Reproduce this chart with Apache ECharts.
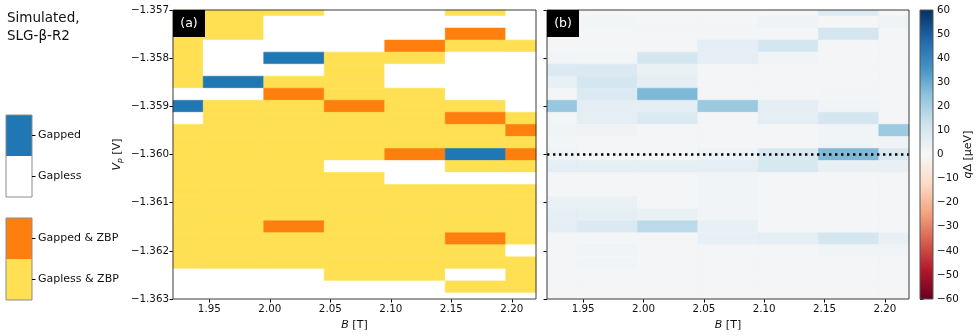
<!DOCTYPE html>
<html>
<head>
<meta charset="utf-8">
<script src="https://cdn.jsdelivr.net/npm/echarts@6/dist/echarts.min.js"></script>
<style>
html,body{margin:0;padding:0;background:#ffffff;}
#c{width:980px;height:336px;}
</style>
</head>
<body>
<div id="c"></div>
<script>
// ---------------- DATA ----------------
const B_VALUES = [1.92, 1.97, 2.02, 2.07, 2.12, 2.17, 2.22];
const VP_VALUES = [-1.357, -1.35725, -1.3575, -1.35775, -1.358, -1.35825, -1.3585, -1.35875,
  -1.359, -1.35925, -1.3595, -1.35975, -1.36, -1.36025, -1.3605, -1.36075,
  -1.361, -1.36125, -1.3615, -1.36175, -1.362, -1.36225, -1.3625, -1.36275, -1.363];
const X_TICKS = [1.95, 2.00, 2.05, 2.10, 2.15, 2.20];
const Y_TICKS = [-1.363, -1.362, -1.361, -1.360, -1.359, -1.358, -1.357];
const CBAR_TICKS = [-60, -50, -40, -30, -20, -10, 0, 10, 20, 30, 40, 50, 60];
const CBAR_MIN = -60;
const CBAR_MAX = 60;
const DOTTED_VP = -1.360;

// state codes: 0 Gapped, 1 Gapless, 2 Gapped & ZBP, 3 Gapless & ZBP
const STATE_NAMES = ['Gapped', 'Gapless', 'Gapped & ZBP', 'Gapless & ZBP'];
// rows follow VP_VALUES (top to bottom), columns follow B_VALUES
const PANEL_A_STATES = [
  [3,3,3,1,1,3,1],
  [3,3,1,1,1,1,1],
  [3,3,1,1,1,2,1],
  [3,1,1,1,2,3,3],
  [3,1,0,3,3,1,1],
  [3,1,1,3,1,1,1],
  [3,0,3,3,1,1,1],
  [1,1,2,3,3,1,1],
  [0,3,3,2,3,3,1],
  [1,3,3,3,3,2,3],
  [3,3,3,3,3,3,2],
  [3,3,3,3,3,3,3],
  [3,3,3,3,2,0,2],
  [3,3,3,1,1,3,3],
  [3,3,3,3,1,1,1],
  [3,3,3,3,3,3,3],
  [3,3,3,3,3,3,3],
  [3,3,3,3,3,3,3],
  [3,3,2,3,3,3,3],
  [3,3,3,3,3,2,3],
  [3,3,3,3,3,3,1],
  [3,3,3,3,3,3,3],
  [1,1,1,3,3,1,3],
  [1,1,1,1,1,3,3],
  [1,1,1,1,1,1,1]
];
// q*Delta [ueV]
const PANEL_B_QDELTA = [
  [1.3, 1.3, 1.3, 1.3, 1.3, 8.5, 1.3],
  [1.3, 1.5, 1.3, 1.3, 2.5, 1.3, 2.8],
  [1.3, 1.3, 1.3, 1.3, 1.3, 11, 1.3],
  [1.3, 1.3, 1.3, 5.7, 11, 1.3, 1.3],
  [2.2, 1.6, 11, 5.7, 2.2, 1.3, 1.3],
  [8.8, 8.8, 4, 1.3, 1.3, 1.3, 1.3],
  [5, 11, 6, 1.3, 1.3, 1.3, 1.3],
  [1.3, 8.8, 27, 1.3, 1.3, 1.6, 1.3],
  [23, 6, 6, 22.5, 6, 2.2, 1.3],
  [1.6, 6, 8.8, 1.3, 6, 11, 1.3],
  [2.2, 2.5, 1.3, 1.3, 1.3, 1.9, 22],
  [1.6, 1.3, 1.3, 1.3, 1.3, 2.2, 2.5],
  [2.5, 1.3, 1.3, 3.5, 10, 27, 10],
  [6, 6, 6, 6, 10, 4.4, 4.4],
  [1.3, 1.3, 1.3, 1.9, 1.3, 1.3, 1.3],
  [1.3, 1.3, 1.3, 2.2, 1.3, 1.3, 1.3],
  [4, 4, 1.3, 2.2, 1.3, 1.3, 1.3],
  [6, 6, 4, 2.2, 1.3, 1.3, 1.3],
  [6, 8.8, 16, 5, 1.3, 1.3, 1.3],
  [1.3, 1.3, 1.3, 5, 6, 11, 4.4],
  [1.3, 1.9, 1.3, 1.3, 1.3, 1.9, 1.9],
  [1.3, 1.9, 1.3, 1.3, 1.3, 1.3, 1.3],
  [1.3, 1.3, 1.3, 1.3, 1.3, 1.3, 1.3],
  [1.3, 1.3, 1.3, 1.3, 1.3, 1.3, 1.3],
  [1.3, 1.3, 1.3, 1.3, 1.3, 1.3, 1.3]
];

// ---------------- STYLE ----------------
const STATE_COLORS = ['#1f77b4', '#ffffff', '#ff7f0e', '#fee052'];
const RDBU = ['#67001f','#b2182b','#d6604d','#f4a582','#fddbc7','#f7f7f7','#d1e5f0','#92c5de','#4393c3','#2166ac','#053061'];
const FONT = 'DejaVu Sans';
const TXT = '#111111';

// ---------------- BUILD ----------------
function buildData(grid) {
  const out = [];
  grid.forEach((row, r) => row.forEach((val, c) => out.push([B_VALUES[c], VP_VALUES[r], val])));
  return out;
}
const dataA = buildData(PANEL_A_STATES);
const dataB = buildData(PANEL_B_QDELTA);

const halfB = (B_VALUES[1] - B_VALUES[0]) / 2;
const halfV = Math.abs(VP_VALUES[0] - VP_VALUES[1]) / 2;

function cellShape(params, api) {
  const b = api.value(0), v = api.value(1);
  const p0 = api.coord([b - halfB, v + halfV]);
  const p1 = api.coord([b + halfB, v - halfV]);
  const cs = params.coordSys;
  return echarts.graphic.clipRectByRect(
    {x: p0[0], y: p0[1], width: p1[0] - p0[0], height: p1[1] - p0[1]},
    {x: cs.x, y: cs.y, width: cs.width, height: cs.height});
}

const fmtB = v => v.toFixed(2);
const fmtV = v => '\u2212' + Math.abs(v).toFixed(3);
const fmtC = v => (v < 0 ? '\u2212' + Math.abs(v) : String(v));

const tickStyle = {color: '#000', width: 1};
const labelBase = {fontFamily: FONT, fontSize: 10.3, color: TXT};

function xAxisFor(i) {
  return {
    type: 'value', gridIndex: i, min: B_VALUES[0], max: B_VALUES[B_VALUES.length - 1],
    axisLine: {show: false},
    axisTick: {show: true, inside: false, length: 3.5, customValues: X_TICKS, lineStyle: tickStyle},
    axisLabel: Object.assign({show: true, customValues: X_TICKS, formatter: fmtB, margin: 5.5}, labelBase),
    splitLine: {show: false},
    name: '{i|B} [T]', nameLocation: 'middle', nameGap: 19,
    nameTextStyle: {fontFamily: FONT, fontSize: 11, color: TXT,
      rich: {i: {fontFamily: FONT, fontSize: 11, fontStyle: 'italic', color: TXT}}}
  };
}
function yAxisFor(i, withLabels) {
  const ax = {
    type: 'value', gridIndex: i, min: VP_VALUES[VP_VALUES.length - 1], max: VP_VALUES[0],
    axisLine: {show: false},
    axisTick: {show: true, inside: false, length: 3.5, customValues: Y_TICKS, lineStyle: tickStyle},
    axisLabel: Object.assign({show: withLabels, customValues: Y_TICKS, formatter: fmtV, margin: 4}, labelBase),
    splitLine: {show: false}
  };
  if (withLabels) {
    ax.name = '{i|V}{s|p} [V]';
    ax.nameLocation = 'middle';
    ax.nameGap = 49;
    ax.nameTextStyle = {fontFamily: FONT, fontSize: 11, color: TXT,
      rich: {
        i: {fontFamily: FONT, fontSize: 11, fontStyle: 'italic', color: TXT, lineHeight: 14},
        s: {fontFamily: FONT, fontSize: 7.5, fontStyle: 'italic', color: TXT, verticalAlign: 'bottom', lineHeight: 9}
      }};
  }
  return ax;
}

const gridBase = {show: true, borderColor: '#3a3a3a', borderWidth: 1, backgroundColor: 'transparent', z: 10, containLabel: false};

const legendGraphics = [];
function legendBox(top, idxTop, idxBottom) {
  const h = 41, w = 26, x = 6;
  legendGraphics.push({type: 'rect', shape: {x: x, y: top, width: w, height: h}, style: {fill: STATE_COLORS[idxTop]}, z: 1});
  legendGraphics.push({type: 'rect', shape: {x: x, y: top + h, width: w, height: h}, style: {fill: STATE_COLORS[idxBottom]}, z: 1});
  legendGraphics.push({type: 'rect', shape: {x: x, y: top, width: w, height: 2 * h}, style: {fill: 'none', stroke: '#8c8c8c', lineWidth: 1}, z: 2});
  [[idxTop, top + h / 2], [idxBottom, top + 1.5 * h]].forEach(([idx, y]) => {
    legendGraphics.push({type: 'line', shape: {x1: x + w, y1: y, x2: x + w + 3.5, y2: y}, style: {stroke: '#000', lineWidth: 1}, z: 2});
    legendGraphics.push({type: 'text', x: 38, y: y, style: {text: STATE_NAMES[idx], fontFamily: FONT, fontSize: 11, fill: TXT, verticalAlign: 'middle', align: 'left'}, z: 2});
  });
}
legendBox(115, 0, 1);
legendBox(218, 2, 3);

function panelTag(x, label) {
  return [
    {type: 'rect', shape: {x: x, y: 10, width: 32, height: 27}, style: {fill: '#000'}, z: 100},
    {type: 'text', x: x + 16, y: 23.5, style: {text: label, fontFamily: FONT, fontSize: 12.5, fill: '#fff', align: 'center', verticalAlign: 'middle'}, z: 101}
  ];
}

const option = {
  animation: false,
  backgroundColor: '#ffffff',
  grid: [
    Object.assign({left: 173, top: 10, width: 363, height: 289}, gridBase),
    Object.assign({left: 547, top: 10, width: 362, height: 289}, gridBase),
    Object.assign({left: 920, top: 10, width: 13, height: 289}, gridBase, {borderColor: '#555'})
  ],
  xAxis: [
    xAxisFor(0),
    xAxisFor(1),
    {type: 'value', gridIndex: 2, min: 0, max: 1, show: false}
  ],
  yAxis: [
    yAxisFor(0, true),
    yAxisFor(1, false),
    {
      type: 'value', gridIndex: 2, min: CBAR_MIN, max: CBAR_MAX, position: 'right',
      axisLine: {show: false},
      axisTick: {show: true, inside: false, length: 3.5, customValues: CBAR_TICKS, lineStyle: tickStyle},
      axisLabel: Object.assign({show: true, customValues: CBAR_TICKS, formatter: fmtC, margin: 4}, labelBase),
      splitLine: {show: false},
      name: '{i|q}\u0394 [\u03bceV]', nameLocation: 'middle', nameGap: 29,
      nameTextStyle: {fontFamily: FONT, fontSize: 11, color: TXT,
        rich: {i: {fontFamily: FONT, fontSize: 11, fontStyle: 'italic', color: TXT}}}
    }
  ],
  visualMap: [{
    type: 'continuous', show: false, seriesIndex: 1, dimension: 2,
    min: CBAR_MIN, max: CBAR_MAX, inRange: {color: RDBU}
  }],
  series: [
    {
      type: 'custom', xAxisIndex: 0, yAxisIndex: 0, data: dataA,
      encode: {x: 0, y: 1},
      renderItem: function (params, api) {
        const shape = cellShape(params, api);
        if (!shape) return null;
        const col = STATE_COLORS[api.value(2)];
        return {type: 'rect', shape: shape, style: {fill: col, stroke: col, lineWidth: 0.6}};
      }
    },
    {
      type: 'custom', xAxisIndex: 1, yAxisIndex: 1, data: dataB,
      encode: {x: 0, y: 1},
      renderItem: function (params, api) {
        const shape = cellShape(params, api);
        if (!shape) return null;
        const col = api.visual('color');
        return {type: 'rect', shape: shape, style: {fill: col, stroke: col, lineWidth: 0.6}};
      }
    },
    {
      type: 'line', xAxisIndex: 1, yAxisIndex: 1, z: 5,
      data: B_VALUES.map(b => [b, DOTTED_VP]),
      symbol: 'none', silent: true,
      lineStyle: {color: '#000', width: 2.4, type: [2.4, 3.6], cap: 'butt'}
    },
    {
      type: 'custom', xAxisIndex: 2, yAxisIndex: 2, data: [[0, CBAR_MIN, CBAR_MAX]],
      renderItem: function (params, api) {
        const p0 = api.coord([0, api.value(2)]);
        const p1 = api.coord([1, api.value(1)]);
        const stops = RDBU.slice().reverse().map((c, i) => ({offset: i / (RDBU.length - 1), color: c}));
        return {type: 'rect', shape: {x: p0[0], y: p0[1], width: p1[0] - p0[0], height: p1[1] - p0[1]},
          style: {fill: new echarts.graphic.LinearGradient(0, 0, 0, 1, stops)}};
      }
    }
  ],
  graphic: [
    {type: 'text', left: 7, top: 9, style: {text: 'Simulated,\nSLG-\u03b2-R2', fontFamily: FONT, fontSize: 13.5, lineHeight: 18, fill: TXT}, z: 2}
  ].concat(legendGraphics, panelTag(173, '(a)'), panelTag(547, '(b)'))
};

const chart = echarts.init(document.getElementById('c'), null, {renderer: 'canvas', width: 980, height: 336});
chart.setOption(option);
</script>
</body>
</html>
